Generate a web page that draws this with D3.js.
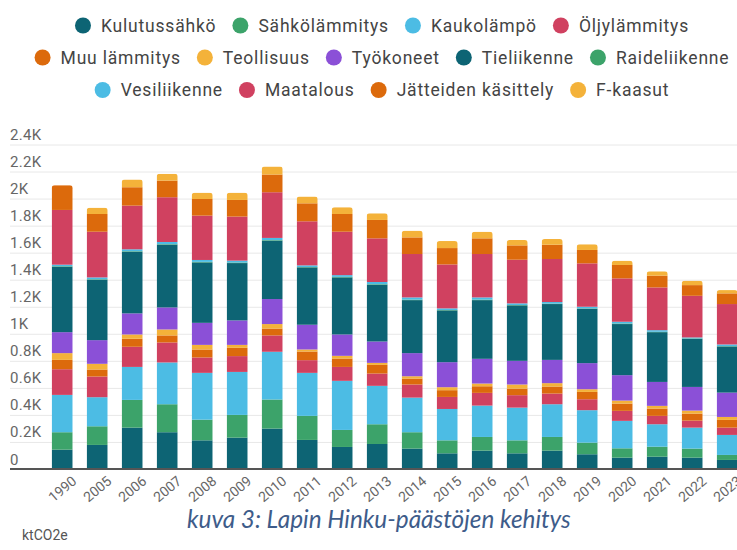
<!DOCTYPE html>
<html><head><meta charset="utf-8">
<script src="https://cdn.jsdelivr.net/npm/d3@7"></script>
<style>body{margin:0;background:#fff;} svg{display:block;font-family:Roboto, "Noto Sans", sans-serif;}</style>
</head><body>
<svg id="c" width="737" height="550"></svg>
<script>
const years = ["1990","2005","2006","2007","2008","2009","2010","2011","2012","2013","2014","2015","2016","2017","2018","2019","2020","2021","2022","2023"];
const kulutussahko  = [143,178,306,272,212,232,299,215,163,185,151,116,136,116,136,109,84,91,84,67];
const sahkolammitys = [129,138,205,207,153,168,215,178,126,146,121,96,101,96,101,86,69,74,67,37];
const kaukolampo    = [276,215,244,309,346,318,353,318,363,284,256,232,232,242,242,240,203,166,155,148];
const oljylammitys  = [190,153,149,148,114,117,121,94,103,91,97,89,94,92,79,81,74,62,52,54];
const muuLammitys   = [69,52,59,52,59,61,51,64,62,64,44,50,49,49,52,54,54,54,52,57];
const teollisuus    = [50,42,32,44,34,22,33,15,20,15,17,22,20,30,25,20,22,20,22,22];
const tyokoneet     = [155,175,156,163,163,181,185,183,158,158,171,185,183,175,172,193,188,177,175,180];
const tieliikenne   = [484,447,456,464,447,424,432,424,422,420,392,383,434,410,413,402,378,368,356,341];
const raideliikenne = [4,4,4,4,4,4,4,3,4,4,4,3,4,3,3,3,4,3,3,3];
const vesiliikenne  = [11,13,14,16,14,14,16,12,13,16,16,12,16,12,12,12,13,12,7,12];
const maatalous     = [405,338,323,331,328,326,338,326,321,323,321,325,321,323,318,321,321,316,308,299];
const jatteet       = [183,131,136,123,123,123,131,133,131,136,123,121,116,106,106,99,99,87,79,79];
const fkaasut       = [0,47,57,50,47,54,59,50,50,49,50,52,49,40,42,42,32,32,33,24];

const seriesNames = ["Kulutussähkö","Sähkölämmitys","Kaukolämpö","Öljylämmitys","Muu lämmitys","Teollisuus","Työkoneet","Tieliikenne","Raideliikenne","Vesiliikenne","Maatalous","Jätteiden käsittely","F-kaasut"];
const seriesColors = ["#0d6474","#3ca36a","#4cbce4","#d04160","#dc6a0c","#f4b23a","#8b50d7","#0d6474","#3ca36a","#4cbce4","#d04160","#dc6a0c","#f4b23a"];
const legendRows = [[0,1,2,3],[4,5,6,7,8],[9,10,11,12]];
const yTicks = [0,200,400,600,800,1000,1200,1400,1600,1800,2000,2200,2400];
const yTickLabels = ["0","0.2K","0.4K","0.6K","0.8K","1K","1.2K","1.4K","1.6K","1.8K","2K","2.2K","2.4K"];
const captionText = "kuva 3: Lapin Hinku-päästöjen kehitys";
const unitLabel = "ktCO2e";

const seriesValues = [kulutussahko,sahkolammitys,kaukolampo,oljylammitys,muuLammitys,teollisuus,tyokoneet,tieliikenne,raideliikenne,vesiliikenne,maatalous,jatteet,fkaasut];
const rows = years.map((yr,i)=>{const o={year:yr}; seriesNames.forEach((n,k)=>o[n]=seriesValues[k][i]); return o;});
const stacked = d3.stack().keys(seriesNames)(rows);

const W=737,H=550;
const svg=d3.select("#c");
const x=d3.scaleBand().domain(years).range([44.7,744.7]).paddingInner(0.4).paddingOuter(0.2);
const y=d3.scaleLinear().domain([0,2400]).range([469,144.5]);

// y axis with gridlines
const yAxis = d3.axisRight(y).tickValues(yTicks).tickSize(W-10).tickFormat((d,i)=>yTickLabels[i]);
const gy = svg.append("g").attr("transform","translate(10,0)").call(yAxis);
gy.select(".domain").remove();
gy.selectAll(".tick line").attr("stroke","#e8e8e8");
gy.selectAll(".tick text").attr("x",0).attr("dy",-5).attr("text-anchor","start")
  .attr("font-family","Roboto").attr("font-size",15).attr("letter-spacing",0.3).attr("fill","#666");

// bars
const defs = svg.append("defs");
const totals = rows.map(r=>d3.sum(seriesNames,n=>r[n]));
years.forEach((yr,i)=>{
  defs.append("clipPath").attr("id","clip"+i).append("rect")
    .attr("x",x(yr)).attr("width",x.bandwidth()).attr("y",y(totals[i])).attr("height",y(0)-y(totals[i])+6).attr("rx",3);
});
const barG = svg.append("g");
stacked.forEach((s,k)=>{
  barG.append("g").attr("fill",seriesColors[k]).selectAll("rect").data(s).join("rect")
    .attr("clip-path",(d,i)=>`url(#clip${i})`)
    .attr("x",d=>x(d.data.year)).attr("width",x.bandwidth())
    .attr("y",d=>y(d[1])).attr("height",d=>Math.max(0,y(d[0])-y(d[1])));
});

// x axis
const xAxis = d3.axisBottom(x).tickSize(0);
const gx = svg.append("g").attr("transform","translate(0,469)").call(xAxis);
gx.select(".domain").remove();
gx.selectAll(".tick text").attr("font-family","Roboto").attr("font-size",14).attr("fill","#666")
  .attr("text-anchor","end").attr("transform","translate(9,6) rotate(-40)").attr("dy","0.71em").attr("y",0);
svg.append("line").attr("x1",10).attr("x2",W).attr("y1",469).attr("y2",469).attr("stroke","#555").attr("stroke-width",2);

// legend
const legendY=[25.5,57.5,90];
const lg = svg.append("g").attr("font-family","Roboto").attr("font-size",17.5).attr("letter-spacing",0.8).attr("fill","#444");
legendRows.forEach((row,ri)=>{
  const g = lg.append("g");
  let cx=0;
  row.forEach(k=>{
    g.append("circle").attr("cx",cx+8).attr("cy",legendY[ri]).attr("r",8).attr("fill",seriesColors[k]);
    const t=g.append("text").attr("x",cx+26).attr("y",legendY[ri]).attr("dy","0.35em").text(seriesNames[k]);
    cx += 26 + t.node().getComputedTextLength() + 16;
  });
  const wRow = cx-16;
  g.attr("transform",`translate(${382-wRow/2},0)`);
});

// caption
const cap = svg.append("text").attr("x",187).attr("y",528).attr("font-family","Lato, 'Open Sans', sans-serif")
  .attr("font-style","italic").attr("font-size",20).attr("fill","#3e5c8a").text(captionText);
const cw = cap.node().getComputedTextLength();
cap.attr("font-size",20*384/cw);

svg.append("text").attr("x",22).attr("y",540).attr("font-family","Roboto").attr("font-size",14).attr("fill","#555").text(unitLabel);
</script>
</body></html>
